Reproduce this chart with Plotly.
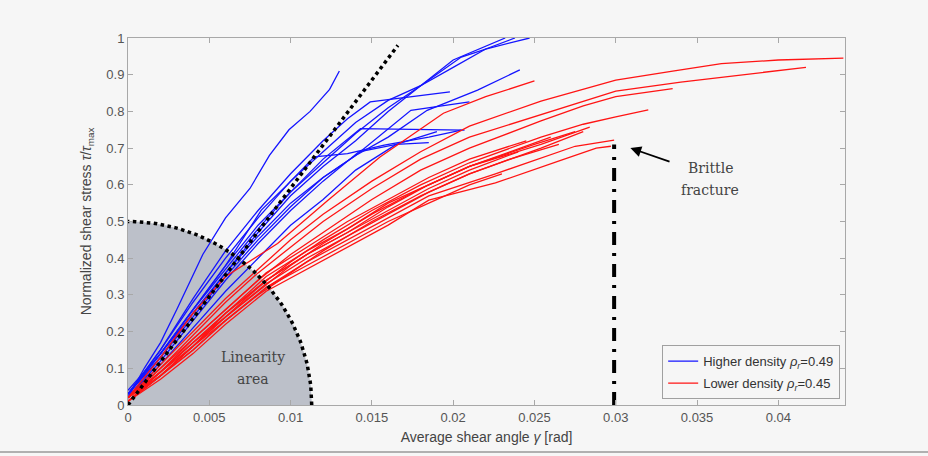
import numpy as np
import plotly.graph_objects as go

# ---------------- data ----------------
# Higher density specimens (blue)
blue1_x = [0, 0.001, 0.002, 0.003, 0.0046, 0.006, 0.0075, 0.0087, 0.0099, 0.0112, 0.0124, 0.013]
blue1_y = [0.02, 0.10, 0.17, 0.26, 0.41, 0.51, 0.59, 0.68, 0.75, 0.80, 0.86, 0.91]
blue2_x = [0, 0.002, 0.004, 0.006, 0.008, 0.010, 0.012, 0.0135, 0.0149, 0.0175, 0.0198]
blue2_y = [0.03, 0.15, 0.29, 0.42, 0.53, 0.63, 0.72, 0.78, 0.826, 0.84, 0.853]
blue3_x = [0, 0.002, 0.004, 0.006, 0.008, 0.010, 0.012, 0.014, 0.016, 0.018, 0.0205, 0.022, 0.0247]
blue3_y = [0.03, 0.15, 0.28, 0.40, 0.51, 0.61, 0.69, 0.77, 0.83, 0.87, 0.948, 0.97, 1.0]
blue4_x = [0, 0.002, 0.004, 0.006, 0.008, 0.010, 0.012, 0.014, 0.016, 0.018, 0.020, 0.022, 0.0238]
blue4_y = [0.04, 0.14, 0.26, 0.38, 0.49, 0.58, 0.66, 0.74, 0.81, 0.87, 0.92, 0.97, 1.0]
blue5_x = [0, 0.002, 0.004, 0.006, 0.008, 0.010, 0.012, 0.014, 0.016, 0.018, 0.020, 0.0232]
blue5_y = [0.02, 0.13, 0.25, 0.36, 0.47, 0.57, 0.65, 0.72, 0.80, 0.87, 0.94, 1.0]
blue6_x = [0, 0.002, 0.004, 0.006, 0.008, 0.010, 0.012, 0.014, 0.016, 0.0184, 0.0215, 0.0241]
blue6_y = [0.03, 0.14, 0.25, 0.36, 0.46, 0.55, 0.62, 0.68, 0.73, 0.803, 0.858, 0.913]
blue7_x = [0, 0.002, 0.004, 0.006, 0.008, 0.010, 0.012, 0.014, 0.0174, 0.021]
blue7_y = [0.03, 0.13, 0.24, 0.35, 0.45, 0.54, 0.62, 0.68, 0.803, 0.826]
blue8_x = [0, 0.002, 0.004, 0.006, 0.008, 0.010, 0.012, 0.0143, 0.017, 0.0207]
blue8_y = [0.03, 0.14, 0.26, 0.37, 0.48, 0.58, 0.67, 0.753, 0.752, 0.749]
blue9_x = [0, 0.002, 0.004, 0.006, 0.008, 0.010, 0.012, 0.0142, 0.0165, 0.0185]
blue9_y = [0.02, 0.12, 0.23, 0.34, 0.44, 0.53, 0.61, 0.69, 0.71, 0.715]
blue10_x = [0, 0.002, 0.004, 0.006, 0.0082, 0.0098, 0.01146, 0.0135, 0.01576, 0.0185, 0.0205]
blue10_y = [0.03, 0.14, 0.26, 0.38, 0.531, 0.60, 0.676, 0.685, 0.708, 0.73, 0.749]
blue11_x = [0, 0.002, 0.004, 0.006, 0.008, 0.010, 0.012, 0.014, 0.0165, 0.019]
blue11_y = [0.02, 0.11, 0.21, 0.31, 0.40, 0.49, 0.56, 0.64, 0.71, 0.745]

# Lower density specimens (red)
red1_x = [0, 0.002, 0.004, 0.006, 0.0092, 0.0123, 0.0155, 0.0194, 0.022, 0.025]
red1_y = [0.02, 0.13, 0.25, 0.35, 0.44, 0.558, 0.676, 0.795, 0.84, 0.883]
red2_x = [0, 0.002, 0.004, 0.006, 0.008, 0.010, 0.012, 0.015, 0.018, 0.021, 0.0254, 0.030, 0.0335, 0.0365, 0.040, 0.044]
red2_y = [0.02, 0.11, 0.20, 0.29, 0.37, 0.45, 0.52, 0.61, 0.69, 0.76, 0.828, 0.885, 0.91, 0.93, 0.94, 0.945]
red3_x = [0, 0.002, 0.004, 0.006, 0.008, 0.010, 0.012, 0.015, 0.018, 0.021, 0.0254, 0.030, 0.034, 0.038, 0.0417]
red3_y = [0.02, 0.10, 0.19, 0.28, 0.36, 0.43, 0.50, 0.59, 0.67, 0.73, 0.792, 0.855, 0.88, 0.90, 0.92]
red4_x = [0, 0.002, 0.004, 0.006, 0.008, 0.010, 0.012, 0.015, 0.018, 0.021, 0.0254, 0.028, 0.030, 0.0335]
red4_y = [0.01, 0.09, 0.18, 0.26, 0.34, 0.41, 0.47, 0.56, 0.64, 0.70, 0.774, 0.815, 0.84, 0.862]
red5_x = [0, 0.002, 0.004, 0.006, 0.008, 0.010, 0.012, 0.015, 0.018, 0.021, 0.0254, 0.028, 0.030, 0.032]
red5_y = [0.02, 0.09, 0.17, 0.25, 0.32, 0.39, 0.45, 0.53, 0.60, 0.66, 0.73, 0.765, 0.785, 0.804]
red6_x = [0, 0.002, 0.004, 0.006, 0.008, 0.010, 0.012, 0.015, 0.018, 0.021, 0.0254, 0.0284]
red6_y = [0.01, 0.09, 0.17, 0.24, 0.31, 0.38, 0.44, 0.52, 0.59, 0.65, 0.71, 0.757]
red7_x = [0, 0.002, 0.004, 0.006, 0.008, 0.010, 0.012, 0.015, 0.018, 0.021, 0.0254, 0.028]
red7_y = [0.02, 0.08, 0.16, 0.23, 0.30, 0.36, 0.42, 0.50, 0.57, 0.63, 0.70, 0.745]
red8_x = [0, 0.002, 0.004, 0.006, 0.0085, 0.011, 0.0135, 0.016, 0.0185, 0.0226, 0.0254, 0.0275, 0.0299]
red8_y = [0.01, 0.08, 0.15, 0.23, 0.32, 0.39, 0.45, 0.51, 0.57, 0.63, 0.674, 0.705, 0.722]
red9_x = [0, 0.002, 0.004, 0.006, 0.0085, 0.011, 0.0135, 0.016, 0.0185, 0.0226, 0.0267, 0.0288, 0.0297]
red9_y = [0.01, 0.07, 0.14, 0.22, 0.31, 0.37, 0.43, 0.49, 0.558, 0.605, 0.668, 0.70, 0.705]
red10_x = [0, 0.002, 0.004, 0.006, 0.0085, 0.011, 0.0135, 0.016, 0.0185, 0.021, 0.0235, 0.0265]
red10_y = [0.02, 0.09, 0.16, 0.24, 0.33, 0.40, 0.46, 0.52, 0.58, 0.63, 0.67, 0.71]
red11_x = [0, 0.002, 0.004, 0.006, 0.0085, 0.011, 0.0135, 0.016, 0.0185, 0.021, 0.024]
red11_y = [0.01, 0.08, 0.16, 0.24, 0.34, 0.41, 0.47, 0.53, 0.59, 0.64, 0.69]
red12_x = [0, 0.002, 0.004, 0.006, 0.0085, 0.011, 0.0135, 0.016, 0.0185, 0.021, 0.0235, 0.026]
red12_y = [0.02, 0.09, 0.17, 0.25, 0.35, 0.42, 0.48, 0.55, 0.60, 0.65, 0.69, 0.73]
red13_x = [0, 0.002, 0.004, 0.006, 0.0085, 0.011, 0.0135, 0.016, 0.0185, 0.021, 0.023]
red13_y = [0.01, 0.08, 0.15, 0.23, 0.32, 0.38, 0.44, 0.50, 0.55, 0.60, 0.63]
red14_x = [0, 0.002, 0.004, 0.006, 0.0085, 0.011, 0.0135, 0.016, 0.0185, 0.021, 0.0245]
red14_y = [0.02, 0.10, 0.18, 0.26, 0.36, 0.43, 0.50, 0.56, 0.62, 0.67, 0.72]
red15_x = [0, 0.002, 0.004, 0.006, 0.0085, 0.011, 0.0135, 0.016, 0.0185, 0.021, 0.025, 0.0275]
red15_y = [0.01, 0.08, 0.16, 0.25, 0.34, 0.41, 0.47, 0.54, 0.60, 0.65, 0.71, 0.745]

blue_curves = [(blue1_x, blue1_y), (blue2_x, blue2_y), (blue3_x, blue3_y), (blue4_x, blue4_y),
               (blue5_x, blue5_y), (blue6_x, blue6_y), (blue7_x, blue7_y), (blue8_x, blue8_y),
               (blue9_x, blue9_y), (blue10_x, blue10_y), (blue11_x, blue11_y)]
red_curves = [(red1_x, red1_y), (red2_x, red2_y), (red3_x, red3_y), (red4_x, red4_y),
              (red5_x, red5_y), (red6_x, red6_y), (red7_x, red7_y), (red8_x, red8_y),
              (red9_x, red9_y), (red10_x, red10_y), (red11_x, red11_y), (red12_x, red12_y),
              (red13_x, red13_y), (red14_x, red14_y), (red15_x, red15_y)]

# linearity region (quarter ellipse) and guide lines
lin_rx = 0.0113
lin_ry = 0.5
slope_x = [0, 0.0166]
slope_y = [0, 0.98]
brittle_x = [0.0299, 0.0299]
brittle_y = [0, 0.71]

x_ticks = [0, 0.005, 0.01, 0.015, 0.02, 0.025, 0.03, 0.035, 0.04]
x_tick_labels = ["0", "0.005", "0.01", "0.015", "0.02", "0.025", "0.03", "0.035", "0.04"]
y_ticks = [0, 0.1, 0.2, 0.3, 0.4, 0.5, 0.6, 0.7, 0.8, 0.9, 1]
y_tick_labels = ["0", "0.1", "0.2", "0.3", "0.4", "0.5", "0.6", "0.7", "0.8", "0.9", "1"]

# ---------------- figure ----------------
BG = "#f6f6f6"
fig = go.Figure()

t = np.linspace(0, np.pi / 2, 80)
ex = lin_rx * np.cos(t)
ey = lin_ry * np.sin(t)
fig.add_trace(go.Scatter(x=np.concatenate([[0], ex, [0]]), y=np.concatenate([[0], ey, [0]]),
                         mode="lines", fill="toself", fillcolor="#bcc0c9",
                         line=dict(width=0), hoverinfo="skip", showlegend=False))

for i, (xs, ys) in enumerate(blue_curves):
    fig.add_trace(go.Scatter(x=xs, y=ys, mode="lines", line=dict(color="#1414ff", width=1.3),
                             name="Higher density <i>ρ<sub>r</sub></i>=0.49", legendgroup="blue",
                             showlegend=(i == 0), legendrank=1))
for i, (xs, ys) in enumerate(red_curves):
    fig.add_trace(go.Scatter(x=xs, y=ys, mode="lines", line=dict(color="#ff1414", width=1.3),
                             name="Lower density <i>ρ<sub>r</sub></i>=0.45", legendgroup="red",
                             showlegend=(i == 0), legendrank=2))

fig.add_trace(go.Scatter(x=ex, y=ey, mode="lines", line=dict(color="black", width=3.5, dash="dot"),
                         hoverinfo="skip", showlegend=False))
fig.add_trace(go.Scatter(x=slope_x, y=slope_y, mode="lines",
                         line=dict(color="black", width=3.5, dash="dot"), showlegend=False))
fig.add_trace(go.Scatter(x=brittle_x, y=brittle_y, mode="lines",
                         line=dict(color="black", width=4, dash="13px,8px,3px,8px"), showlegend=False))

serif = "DejaVu Serif, Liberation Serif, serif"
fig.add_annotation(x=0.0077, y=0.13, text="Linearity", showarrow=False,
                   font=dict(family=serif, size=14, color="#444"))
fig.add_annotation(x=0.0077, y=0.07, text="area", showarrow=False,
                   font=dict(family=serif, size=14, color="#444"))
fig.add_annotation(x=0.0358, y=0.645, text="Brittle", showarrow=False,
                   font=dict(family=serif, size=14, color="#444"))
fig.add_annotation(x=0.0358, y=0.585, text="fracture", showarrow=False,
                   font=dict(family=serif, size=14, color="#444"))
fig.add_annotation(x=0.0309, y=0.70, ax=0.0334, ay=0.662, axref="x", ayref="y",
                   text="", showarrow=True, arrowhead=2, arrowsize=1.2, arrowwidth=1.8,
                   arrowcolor="black")

fig.add_shape(type="line", xref="paper", yref="paper", x0=-0.3, x1=1.3, y0=-0.128, y1=-0.128,
              line=dict(color="#999", width=1.5))

axis_common = dict(showgrid=False, zeroline=False, showline=True, mirror="ticks",
                   linecolor="#a8a8a8", linewidth=1, ticks="inside", ticklen=5,
                   tickcolor="#a8a8a8", tickfont=dict(family="Liberation Sans, Arial", size=13, color="#555"))
fig.update_xaxes(range=[0, 0.0441], tickvals=x_ticks, ticktext=x_tick_labels,
                 title=dict(text="Average shear angle <i>γ</i> [rad]", standoff=8,
                            font=dict(family="Liberation Sans, Arial", size=14, color="#444")),
                 **axis_common)
fig.update_yaxes(range=[0, 1], tickvals=y_ticks, ticktext=y_tick_labels,
                 title=dict(text="Normalized shear stress <i>τ</i>/<i>τ</i><sub>max</sub>", standoff=11,
                            font=dict(family="Liberation Sans, Arial", size=14, color="#444")),
                 **axis_common)

fig.update_layout(
    width=928, height=456,
    margin=dict(l=128, r=83, t=38, b=51),
    paper_bgcolor=BG, plot_bgcolor=BG,
    showlegend=True,
    legend=dict(x=0.745, y=0.163, xanchor="left", yanchor="top",
                bgcolor=BG, bordercolor="#a0a0a0", borderwidth=1,
                font=dict(family="Liberation Sans, Arial", size=13, color="#333"),
                tracegroupgap=2, itemwidth=30),
)

fig.write_html("out.html", config={"displayModeBar": False},
               post_script="document.body.style.margin='0';document.body.style.background='#f6f6f6';")
